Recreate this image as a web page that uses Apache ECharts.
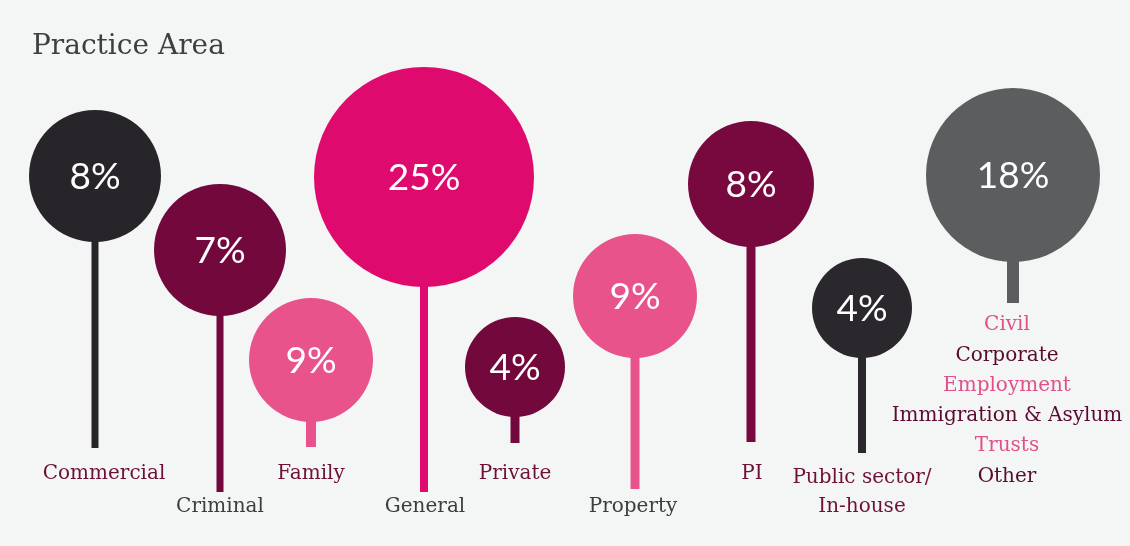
<!DOCTYPE html>
<html lang="en">
<head>
  <meta charset="utf-8" />
  <title>Practice Area</title>
  <style>
    html, body { margin: 0; padding: 0; background: #f4f5f5; }
    #main { width: 1130px; height: 546px; }
  </style>
</head>
<body>
  <div id="main"></div>
  <script src="https://cdn.jsdelivr.net/npm/echarts@6/dist/echarts.min.js"></script>
  <script>
    // data
    var categories = ['Commercial', 'Criminal', 'Family', 'General', 'Private', 'Property', 'PI', 'Public sector/\nIn-house', 'Other'];
    var values = [8, 7, 9, 25, 4, 9, 8, 4, 18];
    var otherList = ['Civil', 'Corporate', 'Employment', 'Immigration & Asylum', 'Trusts', 'Other'];

    // layout (page pixels, mapped through a 1:1 value grid)
    var bubbleX = [95, 220, 311, 424, 515, 635, 751, 862, 1013];
    var bubbleY = [176, 250, 360, 177, 367, 296, 184, 308, 175];
    var bubbleR = [66, 66, 62, 110, 50, 62, 63, 50, 87];
    var stemEnd = [448, 492, 447, 492, 443, 489, 442, 453, 303];
    var stemW = [7, 7, 10, 8, 9, 9, 9, 8, 12];
    var labelX = [104, 220, 311, 425, 515, 633, 752, 862, 1007];
    var labelY = [474, 507, 474, 507, 474, 507, 474, 492, 325];

    var fills = ['#27242a', '#72083b', '#e8538b', '#df0a6e', '#72083b', '#e8538b', '#78093e', '#2b282d', '#5c5d5f'];
    var labelColors = ['#6e1038', '#3d3d3d', '#6e1038', '#3d3d3d', '#6e1038', '#3d3d3d', '#6e1038', '#6e1038', '#6e1038'];
    var listColors = ['#e0508a', '#5a0c30'];

    var serif = '"DejaVu Serif", "Liberation Serif", serif';

    var myChart = echarts.init(document.getElementById('main'));

    var seriesData = categories.map(function (c, i) {
      return [bubbleX[i], bubbleY[i], stemEnd[i], values[i], i];
    });

    function renderItem(params, api) {
      var i = api.value(4);
      var c = api.coord([api.value(0), api.value(1)]);
      var e = api.coord([api.value(0), api.value(2)]);
      var r = api.size([bubbleR[i], bubbleR[i]])[0];
      var w = stemW[i];
      var kids = [];
      kids.push({
        type: 'rect',
        shape: { x: c[0] - w / 2, y: c[1], width: w, height: e[1] - c[1] },
        style: { fill: fills[i] }
      });
      kids.push({
        type: 'circle',
        shape: { cx: c[0], cy: c[1], r: r },
        style: { fill: fills[i] }
      });
      kids.push({
        type: 'text',
        style: {
          text: api.value(3) + '%', x: c[0], y: c[1] + 1,
          fill: '#ffffff', fontSize: 37, fontFamily: 'Lato, "Open Sans", sans-serif', fontWeight: 'normal',
          align: 'center', verticalAlign: 'middle'
        }
      });
      var lp = api.coord([labelX[i], labelY[i]]);
      if (categories[i] === 'Other') {
        otherList.forEach(function (t, k) {
          kids.push({
            type: 'text',
            style: {
              text: t, x: lp[0], y: lp[1] + k * 30.3,
              fill: listColors[k % 2], fontSize: 20, fontFamily: serif,
              align: 'center', verticalAlign: 'middle'
            }
          });
        });
      } else {
        kids.push({
          type: 'text',
          style: {
            text: categories[i], x: lp[0], y: lp[1],
            fill: labelColors[i], fontSize: 20, fontFamily: serif, lineHeight: 29,
            align: 'center', verticalAlign: 'middle'
          }
        });
      }
      return { type: 'group', children: kids };
    }

    var option = {
      backgroundColor: '#f4f5f5',
      animation: false,
      title: {
        text: 'Practice Area',
        left: 27,
        top: 28,
        textStyle: { fontFamily: serif, fontWeight: 'normal', fontSize: 28, color: '#3f3f3f' }
      },
      grid: { left: 0, right: 0, top: 0, bottom: 0 },
      xAxis: { type: 'value', min: 0, max: 1130, show: false },
      yAxis: { type: 'value', min: 0, max: 546, inverse: true, show: false },
      series: [{
        type: 'custom',
        renderItem: renderItem,
        data: seriesData,
        silent: true
      }]
    };

    myChart.setOption(option);
  </script>
</body>
</html>
